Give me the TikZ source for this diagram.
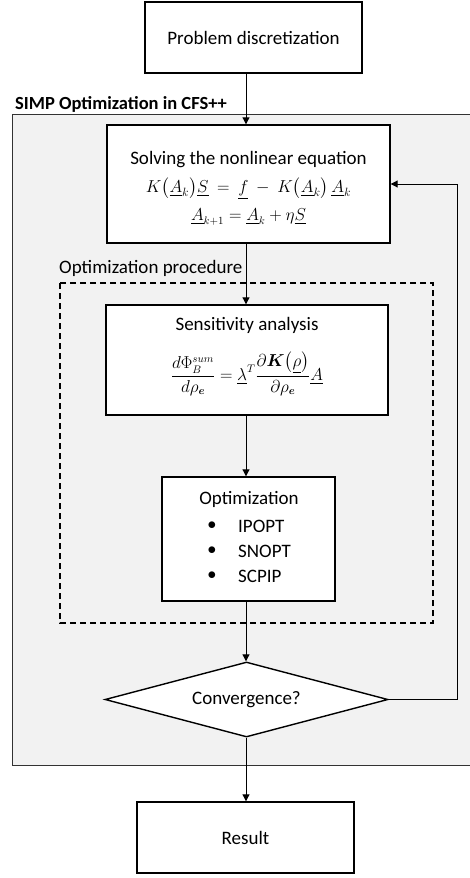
\documentclass[tikz,border=0pt]{standalone}
\usepackage{fontspec}
\usepackage{amsmath,bm}
\setmainfont{Carlito}
\usetikzlibrary{arrows.meta,shapes.geometric,calc}
\definecolor{bggray}{HTML}{F2F2F2}
\begin{document}
\begin{tikzpicture}[x=1pt,y=-1pt,
  every node/.style={font=\fontsize{19}{23}\selectfont,inner sep=0pt},
  box/.style={draw,line width=1.4pt,fill=white,inner sep=0pt,align=center},
  mathtxt/.style={font=\fontsize{16}{19}\selectfont},
  arr/.style={line width=1pt,-{Triangle[length=7pt,width=7pt]}},
  ln/.style={line width=1pt}]
\useasboundingbox (0,0) rectangle (470,878);
% gray region
\fill[bggray] (12.7,114) rectangle (470,765);
\draw[line width=1pt,black!80] (470,114) -- (12.7,114) -- (12.7,765) -- (470,765);
\node[anchor=base west,font=\bfseries\fontsize{18.5}{22}\selectfont] (simplabel) at (15,109) {SIMP Optimization in CFS++};
% dashed box
\draw[line width=1.4pt,dash pattern=on 6pt off 4pt] (60,283) rectangle (433,623);
\node[anchor=base west] (optproc) at (59,273) {Optimization procedure};
\coordinate (spine) at (246,0);
% boxes
\node[box,minimum width=217pt,minimum height=71pt] (prob) at (253.5,37.5) {Problem discretization};
\node[box,minimum width=283pt,minimum height=118pt] (solve) at (248.5,184) {};
\node (solvet) at (248.5,160) {Solving the nonlinear equation};
\node[font=\fontsize{17}{19}\selectfont] (solve1) at (248.5,189)
  {$K\bigl(\underline{A}_k\bigr)\underline{S}\:=\:\underline{f}\:-\:K\bigl(\underline{A}_k\bigr)\,\underline{A}_k$};
\node[mathtxt] (solve2) at (248.5,217) {$\underline{A}_{k+1}=\underline{A}_k+\eta\underline{S}$};
\node[box,minimum width=282pt,minimum height=110pt] (sens) at (247,360) {};
\node (senst) at (247,325) {Sensitivity analysis};
\node[mathtxt] (sense) at (247,374)
  {$\dfrac{d\Phi_B^{sum}}{d\rho_{\bm{e}}}=\underline{\lambda}^T\dfrac{\partial\bm{K}\bigl(\underline{\rho}\bigr)}{\partial\rho_{\bm{e}}}\underline{A}$};
\node[box,minimum width=173pt,minimum height=124pt] (opt) at (248.5,539) {};
\node (optt) at (249,499) {Optimization};
\foreach \nm/\yy/\txt in {b1/526/IPOPT,b2/551/SNOPT,b3/576/SCPIP}{
  \node[mathtxt] (\nm dot) at (212,\yy) {$\bullet$};
  \node[anchor=west] (\nm) at (238,\yy) {\txt};
}
\node[box,diamond,aspect=3.77,minimum width=283pt,minimum height=75pt] (conv) at (246.5,699.5) {Convergence?};
\node[box,minimum width=217pt,minimum height=71pt] (result) at (245.5,837.5) {Result};
% connectors
\draw[arr] (prob.south -| spine) -- (solve.north -| spine);
\draw[arr] (solve.south -| spine) -- (sens.north -| spine);
\draw[arr] (sens.south -| spine) -- (opt.north -| spine);
\draw[arr] (opt.south -| spine) -- (conv.north -| spine);
\draw[arr] (conv.south -| spine) -- (result.north -| spine);
\coordinate (fb) at (457,699.5);
\draw[arr] (conv.east) -- (fb) |- (solve.east);
\end{tikzpicture}
\end{document}
